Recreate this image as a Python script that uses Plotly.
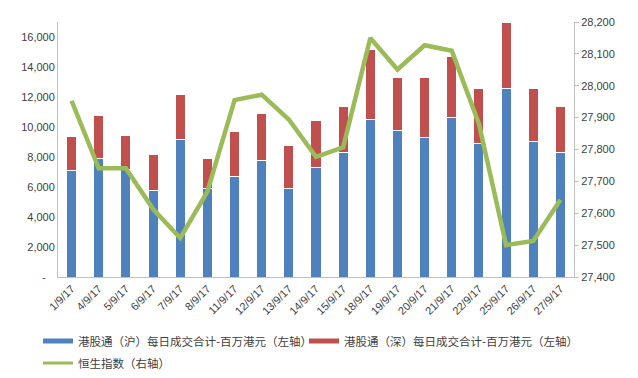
import plotly.graph_objects as go

dates = ["1/9/17", "4/9/17", "5/9/17", "6/9/17", "7/9/17", "8/9/17", "11/9/17", "12/9/17",
         "13/9/17", "14/9/17", "15/9/17", "18/9/17", "19/9/17", "20/9/17", "21/9/17", "22/9/17",
         "25/9/17", "26/9/17", "27/9/17"]
sh_turnover = [7100, 7900, 7200, 5750, 9200, 5920, 6730, 7800, 5870, 7310, 8290, 10510, 9800,
               9270, 10640, 8910, 12560, 9020, 8290]
sz_turnover = [2250, 2850, 2260, 2430, 2960, 1970, 2960, 3070, 2930, 3110, 3070, 4670, 3470,
               4040, 4030, 3690, 4440, 3580, 3090]
hsi = [27953, 27741, 27741, 27613, 27522, 27668, 27955, 27972, 27894, 27777, 27807, 28150, 28051,
       28127, 28110, 27880, 27500, 27513, 27642]

left_ticks = list(range(0, 16001, 2000))
left_labels = ["-   "] + [f"{v:,}" for v in left_ticks[1:]]
right_ticks = list(range(27400, 28201, 100))
right_labels = [f"{v:,}" for v in right_ticks]

names = ["港股通（沪）每日成交合计-百万港元（左轴）", "港股通（深）每日成交合计-百万港元（左轴）", "恒生指数（右轴）"]
blue, red, green = "#4F81BD", "#C0504D", "#9BBB59"

fig = go.Figure()
fig.add_trace(go.Bar(x=dates, y=sh_turnover, name=names[0], showlegend=False, legendgroup="sh",
                     marker=dict(color=blue, line=dict(color="white", width=1))))
fig.add_trace(go.Bar(x=dates, y=sz_turnover, name=names[1], showlegend=False, legendgroup="sz",
                     marker=dict(color=red, line=dict(color="white", width=1))))
fig.add_trace(go.Scatter(x=dates, y=hsi, name=names[2], yaxis="y2", mode="lines", showlegend=False,
                         legendgroup="hsi", line=dict(color=green, width=4.5)))
# legend keys (Excel-style bar swatches), one legend box each for exact placement
fig.add_trace(go.Scatter(x=[None], y=[None], name=names[0], mode="lines", legendgroup="sh",
                         legend="legend", line=dict(color=blue, width=5)))
fig.add_trace(go.Scatter(x=[None], y=[None], name=names[1], mode="lines", legendgroup="sz",
                         legend="legend2", line=dict(color=red, width=5)))
fig.add_trace(go.Scatter(x=[None], y=[None], name=names[2], mode="lines", legendgroup="hsi",
                         legend="legend3", line=dict(color=green, width=3)))

axis_color = "#BFBFBF"
text_color = "#404040"
W, H = 638, 378


def leg(px, py):
    return dict(orientation="h", xref="container", yref="container", x=px / W, xanchor="left",
                y=1 - py / H, yanchor="middle", font=dict(size=11.5, color=text_color),
                itemwidth=30, bgcolor="rgba(0,0,0,0)")


fig.update_layout(
    width=W, height=H,
    margin=dict(l=58, r=64, t=22, b=101),
    paper_bgcolor="white", plot_bgcolor="white",
    barmode="stack", bargap=0.63,
    font=dict(family="Noto Sans CJK SC, Liberation Sans, sans-serif", size=11, color=text_color),
    showlegend=True,
    legend=leg(38, 341),
    legend2=leg(304, 341),
    legend3=leg(38, 363),
    xaxis=dict(type="category", showline=True, linecolor=axis_color, linewidth=1, automargin=False,
               ticks="", tickangle=-45, tickfont=dict(size=11, family="Liberation Sans, sans-serif"),
               showgrid=False),
    yaxis=dict(range=[0, 17000], tickvals=left_ticks, ticktext=left_labels, showline=True,
               automargin=False, linecolor=axis_color, linewidth=1, showgrid=False, zeroline=False,
               ticks="", tickfont=dict(size=11, family="Liberation Sans, sans-serif")),
    yaxis2=dict(range=[27400, 28200], tickvals=right_ticks, ticktext=right_labels, overlaying="y",
                automargin=False, side="right", showline=True, linecolor=axis_color, linewidth=1,
                showgrid=False, zeroline=False, ticks="outside", ticklen=4, tickcolor=axis_color,
                tickfont=dict(size=11, family="Liberation Sans, sans-serif")),
)

fig.write_html("out.html", config={"displayModeBar": False},
               post_script="document.body.style.margin='0';document.body.style.padding='0';"
                           "document.body.style.overflow='hidden';")
